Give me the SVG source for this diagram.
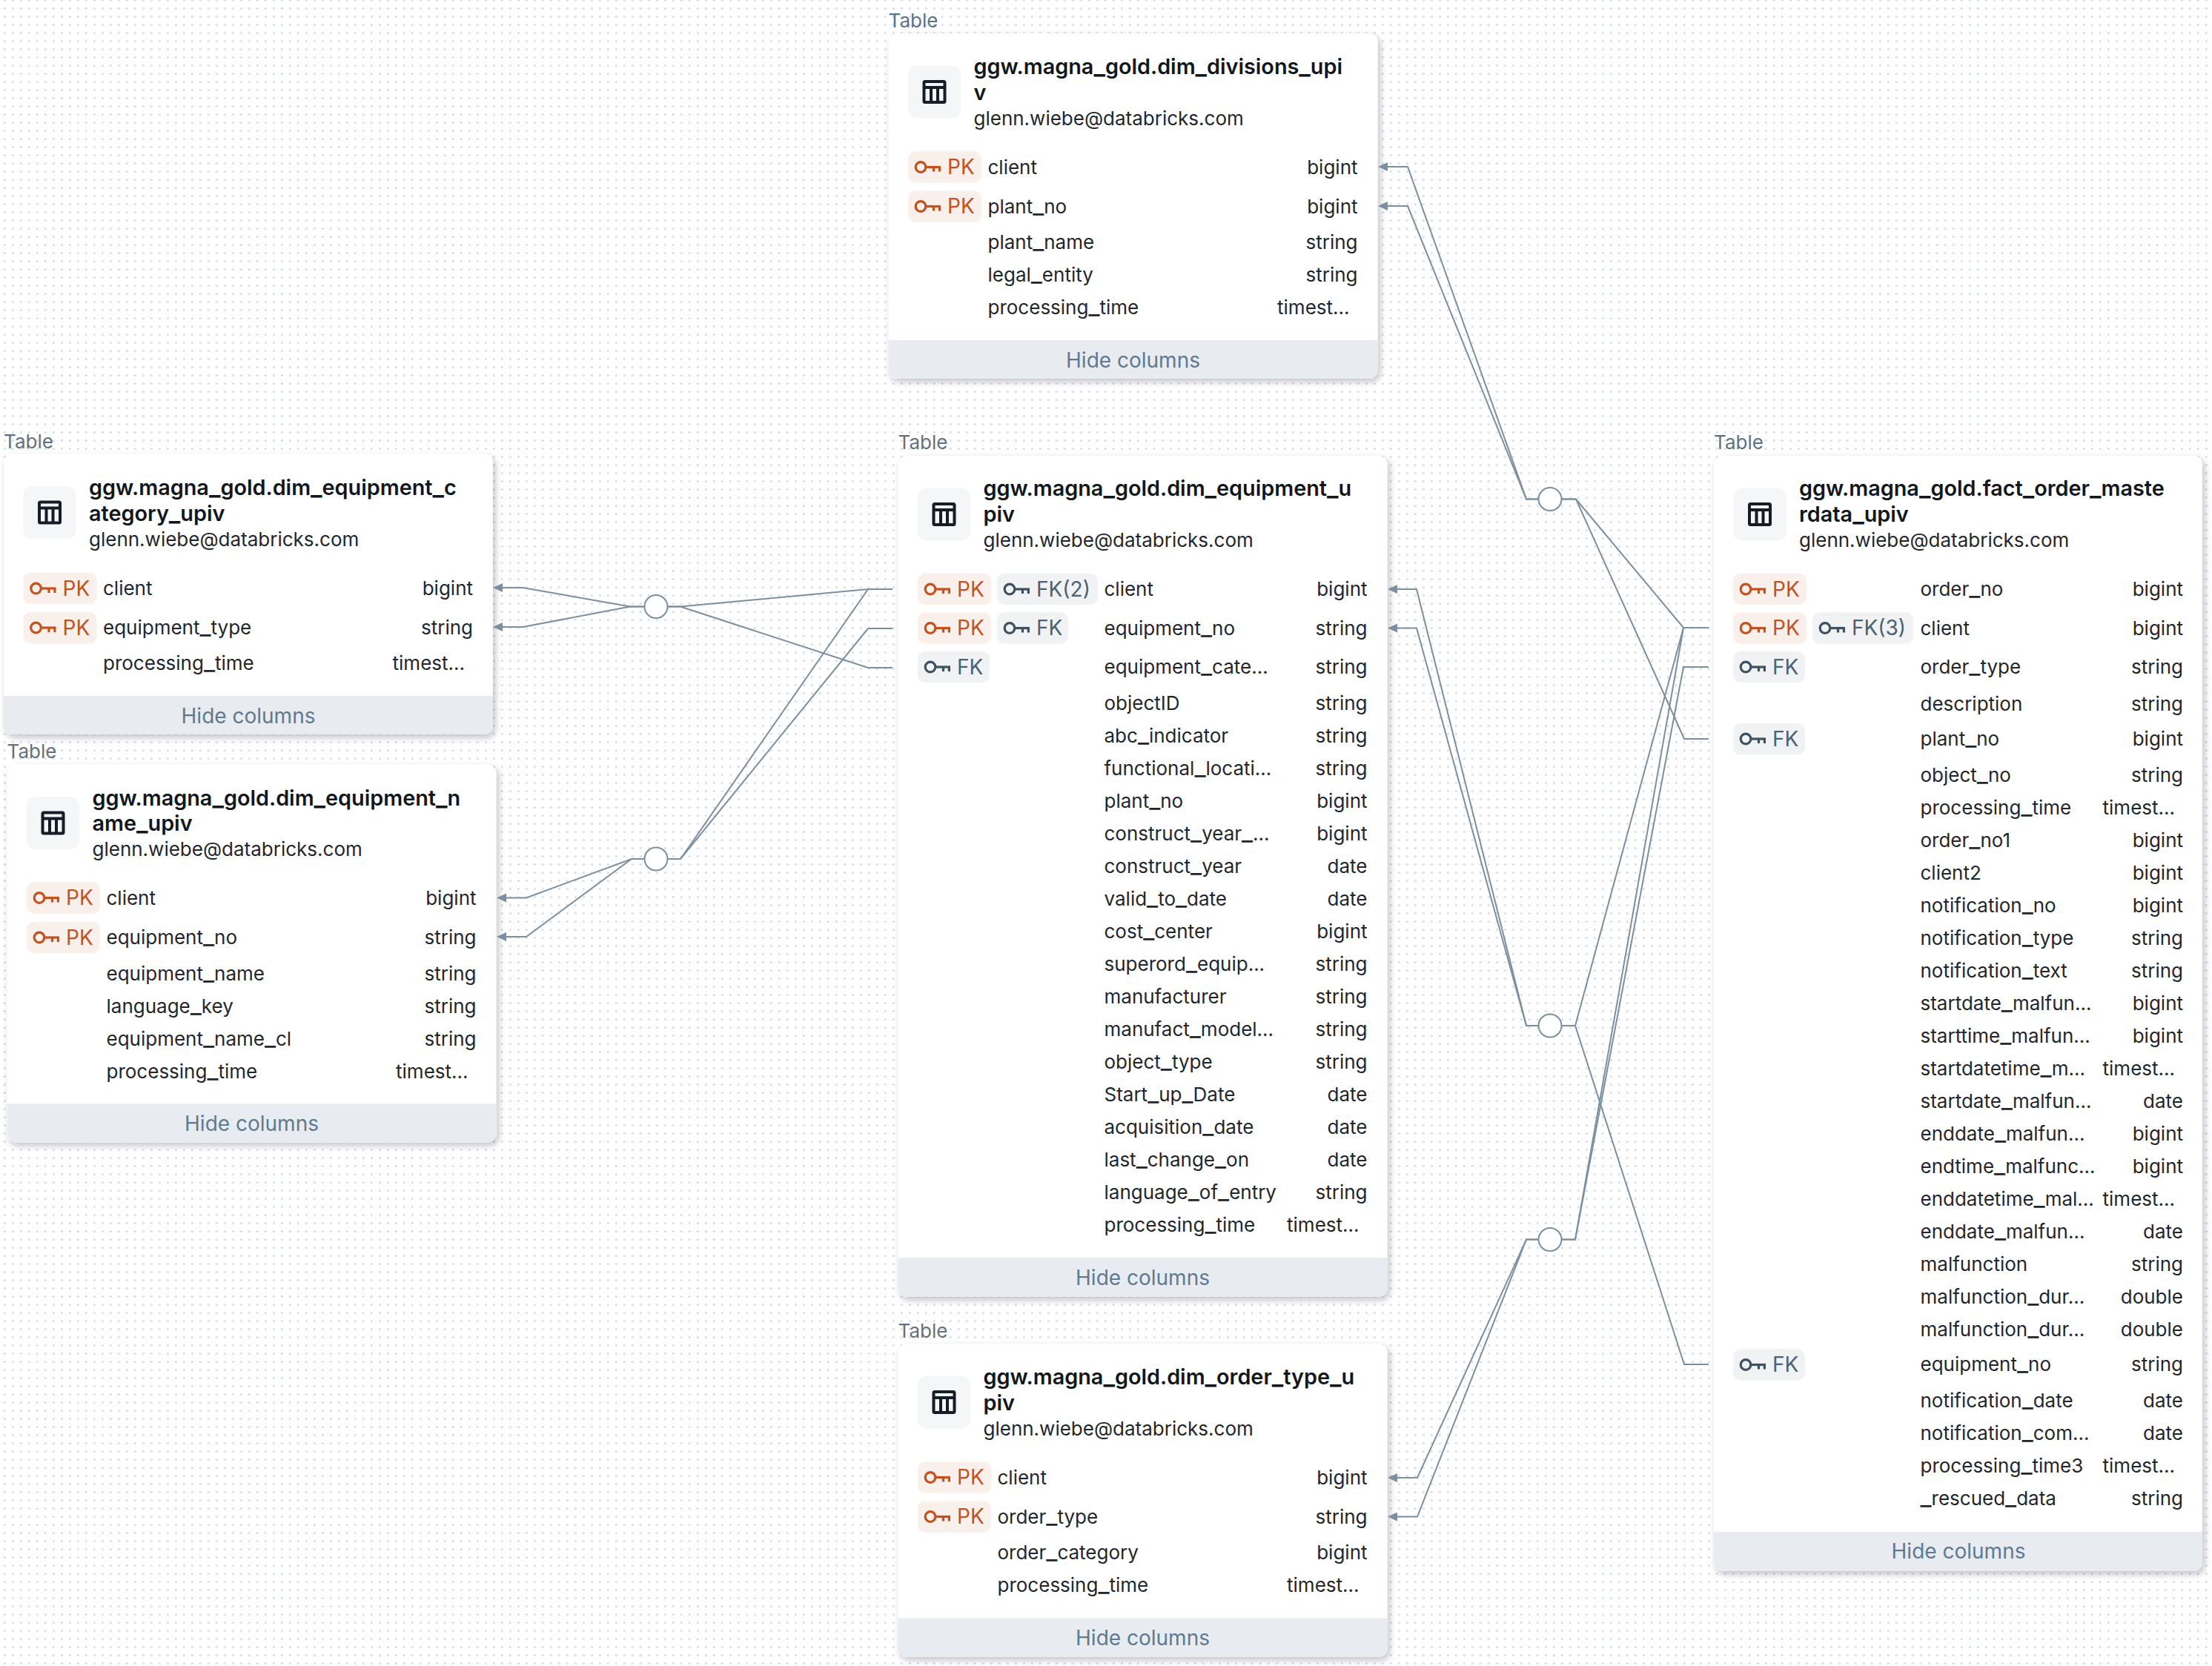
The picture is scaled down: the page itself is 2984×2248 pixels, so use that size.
<svg xmlns="http://www.w3.org/2000/svg" width="2984" height="2248" viewBox="0 0 2984 2248">
<style>
text{font-family:"Inter","Liberation Sans",sans-serif;font-size:26px;fill:#1f272d}
.lab{fill:#5f7281}
.ttl{font-size:28.8px;font-weight:600;fill:#11171c}
.u{font-size:33px}
.tu{font-size:33px}
.typ{text-anchor:end}
.hide{font-size:28px;fill:#5f7a8f;text-anchor:middle}
.card{fill:#fff;filter:url(#sh)}
.foot{fill:#e8ebef}
.ib{fill:#f5f6f8}
.pkb{fill:#faf0eb}
.fkb{fill:#f0f2f4}
.pkt{fill:#c4521f;font-size:28px}
.fkt{fill:#4c6172;font-size:28px}
.kp{color:#c4521f}
.kf{color:#3f5161}
.cn{fill:none;stroke:#7c8fa0;stroke-width:2;marker-end:url(#ar)}
.cc{fill:#fff;stroke:#7c8fa0;stroke-width:2}
</style>
<defs>
<pattern id="dots" width="11" height="11" patternUnits="userSpaceOnUse" x="0.8" y="-5"><circle cx="5.5" cy="5.5" r="1.5" fill="#d4dbe5"/></pattern>
<filter id="sh" x="-5%" y="-5%" width="110%" height="110%"><feDropShadow dx="3" dy="4" stdDeviation="4" flood-color="#1f272d" flood-opacity="0.28"/></filter>
<marker id="ar" viewBox="0 0 13 12" refX="0" refY="6" markerWidth="13" markerHeight="12" markerUnits="userSpaceOnUse" orient="auto"><path d="M13 6L0 0V12Z" fill="#7c8fa0"/></marker>
<g id="key" fill="none" stroke="currentColor" stroke-width="3.2"><circle cx="8" cy="0" r="6.8"/><path d="M15 0H35"/><path d="M25.5 0V6M33.4 0V6"/></g>
<g id="tbl" fill="none" stroke="#161d26" stroke-width="4"><rect x="-14" y="-14" width="28" height="28" rx="1.5"/><path d="M-14 -6H14M-4.5 -6V14M4.5 -6V14"/></g>
</defs>
<rect width="2984" height="2248" fill="#fff"/>
<rect width="2984" height="2248" fill="url(#dots)"/>

<g id="dim_divisions" transform="translate(1198.5,45)">
<text class="lab" x="0" y="-8">Table</text>
<rect class="card" width="660" height="466" rx="12"/>
<path class="foot" d="M0 414H660V454a12 12 0 0 1-12 12H12a12 12 0 0 1-12-12Z"/>
<rect class="ib" x="26.5" y="43.5" width="71" height="71" rx="12"/><use href="#tbl" x="62" y="79"/>
<text class="ttl" x="115" y="55">ggw.magna<tspan class="tu">_</tspan>gold.dim<tspan class="tu">_</tspan>divisions<tspan class="tu">_</tspan>upi</text>
<text class="ttl" x="115" y="89.5">v</text>
<text x="115" y="123.5">glenn.wiebe@databricks.com</text>
<rect class="pkb" x="26.5" y="159.25" width="99" height="42.5" rx="10"/><use class="kp" href="#key" x="35.5" y="180.5"/><text class="pkt" x="79.5" y="190">PK</text>
<rect class="pkb" x="26.5" y="212.25" width="99" height="42.5" rx="10"/><use class="kp" href="#key" x="35.5" y="233.5"/><text class="pkt" x="79.5" y="243">PK</text>
<text x="134" y="189.5">client</text><text class="typ" x="633" y="189.5">bigint</text>
<text x="134" y="242.5">plant<tspan class="u">_</tspan>no</text><text class="typ" x="633" y="242.5">bigint</text>
<text x="134" y="291">plant<tspan class="u">_</tspan>name</text><text class="typ" x="633" y="291">string</text>
<text x="134" y="335">legal<tspan class="u">_</tspan>entity</text><text class="typ" x="633" y="335">string</text>
<text x="134" y="379">processing<tspan class="u">_</tspan>time</text><text class="typ" x="622" y="379">timest...</text>
<text class="hide" x="330" y="451">Hide columns</text>
</g>

<g id="dim_equipment_category" transform="translate(5,612.5)">
<text class="lab" x="0" y="-8">Table</text>
<rect class="card" width="660" height="378.5" rx="12"/>
<path class="foot" d="M0 326.5H660V366.5a12 12 0 0 1-12 12H12a12 12 0 0 1-12-12Z"/>
<rect class="ib" x="26.5" y="43.5" width="71" height="71" rx="12"/><use href="#tbl" x="62" y="79"/>
<text class="ttl" x="115" y="55">ggw.magna<tspan class="tu">_</tspan>gold.dim<tspan class="tu">_</tspan>equipment<tspan class="tu">_</tspan>c</text>
<text class="ttl" x="115" y="90">ategory<tspan class="tu">_</tspan>upiv</text>
<text x="115" y="124">glenn.wiebe@databricks.com</text>
<rect class="pkb" x="26.5" y="160.25" width="99" height="42.5" rx="10"/><use class="kp" href="#key" x="35.5" y="181.5"/><text class="pkt" x="79.5" y="191">PK</text>
<rect class="pkb" x="26.5" y="213.25" width="99" height="42.5" rx="10"/><use class="kp" href="#key" x="35.5" y="234.5"/><text class="pkt" x="79.5" y="244">PK</text>
<text x="134" y="190.5">client</text><text class="typ" x="633" y="190.5">bigint</text>
<text x="134" y="243.5">equipment<tspan class="u">_</tspan>type</text><text class="typ" x="633" y="243.5">string</text>
<text x="134" y="291">processing<tspan class="u">_</tspan>time</text><text class="typ" x="622" y="291">timest...</text>
<text class="hide" x="330" y="363.5">Hide columns</text>
</g>

<g id="dim_equipment_name" transform="translate(9.5,1031.5)">
<text class="lab" x="0" y="-9">Table</text>
<rect class="card" width="660" height="510" rx="12"/>
<path class="foot" d="M0 458H660V498a12 12 0 0 1-12 12H12a12 12 0 0 1-12-12Z"/>
<rect class="ib" x="26.5" y="43.5" width="71" height="71" rx="12"/><use href="#tbl" x="62" y="79"/>
<text class="ttl" x="115" y="55">ggw.magna<tspan class="tu">_</tspan>gold.dim<tspan class="tu">_</tspan>equipment<tspan class="tu">_</tspan>n</text>
<text class="ttl" x="115" y="89.5">ame<tspan class="tu">_</tspan>upiv</text>
<text x="115" y="123.5">glenn.wiebe@databricks.com</text>
<rect class="pkb" x="26.5" y="158.75" width="99" height="42.5" rx="10"/><use class="kp" href="#key" x="35.5" y="180"/><text class="pkt" x="79.5" y="189.5">PK</text>
<rect class="pkb" x="26.5" y="212.25" width="99" height="42.5" rx="10"/><use class="kp" href="#key" x="35.5" y="233.5"/><text class="pkt" x="79.5" y="243">PK</text>
<text x="134" y="189">client</text><text class="typ" x="633" y="189">bigint</text>
<text x="134" y="242.5">equipment<tspan class="u">_</tspan>no</text><text class="typ" x="633" y="242.5">string</text>
<text x="134" y="291">equipment<tspan class="u">_</tspan>name</text><text class="typ" x="633" y="291">string</text>
<text x="134" y="335">language<tspan class="u">_</tspan>key</text><text class="typ" x="633" y="335">string</text>
<text x="134" y="379">equipment<tspan class="u">_</tspan>name<tspan class="u">_</tspan>cl</text><text class="typ" x="633" y="379">string</text>
<text x="134" y="423">processing<tspan class="u">_</tspan>time</text><text class="typ" x="622" y="423">timest...</text>
<text class="hide" x="330" y="494">Hide columns</text>
</g>

<g id="dim_equipment" transform="translate(1211.5,615)">
<text class="lab" x="0" y="-9">Table</text>
<rect class="card" width="660" height="1135" rx="12"/>
<path class="foot" d="M0 1082H660V1123a12 12 0 0 1-12 12H12a12 12 0 0 1-12-12Z"/>
<rect class="ib" x="26.5" y="43.5" width="71" height="71" rx="12"/><use href="#tbl" x="62" y="79"/>
<text class="ttl" x="115" y="54">ggw.magna<tspan class="tu">_</tspan>gold.dim<tspan class="tu">_</tspan>equipment<tspan class="tu">_</tspan>u</text>
<text class="ttl" x="115" y="88.5">piv</text>
<text x="115" y="122.5">glenn.wiebe@databricks.com</text>
<rect class="pkb" x="26.5" y="158.75" width="99" height="42.5" rx="10"/><use class="kp" href="#key" x="35.5" y="180"/><text class="pkt" x="79.5" y="189.5">PK</text>
<rect class="fkb" x="133.5" y="158.75" width="136" height="42.5" rx="10"/><use class="kf" href="#key" x="142.5" y="180"/><text class="fkt" x="186.5" y="189.5">FK(2)</text>
<rect class="pkb" x="26.5" y="211.25" width="99" height="42.5" rx="10"/><use class="kp" href="#key" x="35.5" y="232.5"/><text class="pkt" x="79.5" y="242">PK</text>
<rect class="fkb" x="133.5" y="211.25" width="96" height="42.5" rx="10"/><use class="kf" href="#key" x="142.5" y="232.5"/><text class="fkt" x="186.5" y="242">FK</text>
<rect class="fkb" x="26.5" y="263.75" width="97" height="42.5" rx="10"/><use class="kf" href="#key" x="35.5" y="285"/><text class="fkt" x="79.5" y="294.5">FK</text>
<text x="278" y="189">client</text><text class="typ" x="633" y="189">bigint</text>
<text x="278" y="241.5">equipment<tspan class="u">_</tspan>no</text><text class="typ" x="633" y="241.5">string</text>
<text x="278" y="294">equipment<tspan class="u">_</tspan>cate...</text><text class="typ" x="633" y="294">string</text>
<text x="278" y="343">objectID</text><text class="typ" x="633" y="343">string</text>
<text x="278" y="387">abc<tspan class="u">_</tspan>indicator</text><text class="typ" x="633" y="387">string</text>
<text x="278" y="431">functional<tspan class="u">_</tspan>locati...</text><text class="typ" x="633" y="431">string</text>
<text x="278" y="475">plant<tspan class="u">_</tspan>no</text><text class="typ" x="633" y="475">bigint</text>
<text x="278" y="519">construct<tspan class="u">_</tspan>year<tspan class="u">_</tspan>...</text><text class="typ" x="633" y="519">bigint</text>
<text x="278" y="563">construct<tspan class="u">_</tspan>year</text><text class="typ" x="633" y="563">date</text>
<text x="278" y="607">valid<tspan class="u">_</tspan>to<tspan class="u">_</tspan>date</text><text class="typ" x="633" y="607">date</text>
<text x="278" y="651">cost<tspan class="u">_</tspan>center</text><text class="typ" x="633" y="651">bigint</text>
<text x="278" y="695">superord<tspan class="u">_</tspan>equip...</text><text class="typ" x="633" y="695">string</text>
<text x="278" y="739">manufacturer</text><text class="typ" x="633" y="739">string</text>
<text x="278" y="783">manufact<tspan class="u">_</tspan>model...</text><text class="typ" x="633" y="783">string</text>
<text x="278" y="827">object<tspan class="u">_</tspan>type</text><text class="typ" x="633" y="827">string</text>
<text x="278" y="871">Start<tspan class="u">_</tspan>up<tspan class="u">_</tspan>Date</text><text class="typ" x="633" y="871">date</text>
<text x="278" y="915">acquisition<tspan class="u">_</tspan>date</text><text class="typ" x="633" y="915">date</text>
<text x="278" y="959">last<tspan class="u">_</tspan>change<tspan class="u">_</tspan>on</text><text class="typ" x="633" y="959">date</text>
<text x="278" y="1003">language<tspan class="u">_</tspan>of<tspan class="u">_</tspan>entry</text><text class="typ" x="633" y="1003">string</text>
<text x="278" y="1047">processing<tspan class="u">_</tspan>time</text><text class="typ" x="622" y="1047">timest...</text>
<text class="hide" x="330" y="1119">Hide columns</text>
</g>

<g id="dim_order_type" transform="translate(1211.5,1813)">
<text class="lab" x="0" y="-8">Table</text>
<rect class="card" width="660" height="423" rx="12"/>
<path class="foot" d="M0 370.5H660V411a12 12 0 0 1-12 12H12a12 12 0 0 1-12-12Z"/>
<rect class="ib" x="26.5" y="43.5" width="71" height="71" rx="12"/><use href="#tbl" x="62" y="79"/>
<text class="ttl" x="115" y="55">ggw.magna<tspan class="tu">_</tspan>gold.dim<tspan class="tu">_</tspan>order<tspan class="tu">_</tspan>type<tspan class="tu">_</tspan>u</text>
<text class="ttl" x="115" y="89.5">piv</text>
<text x="115" y="123.5">glenn.wiebe@databricks.com</text>
<rect class="pkb" x="26.5" y="159.25" width="99" height="42.5" rx="10"/><use class="kp" href="#key" x="35.5" y="180.5"/><text class="pkt" x="79.5" y="190">PK</text>
<rect class="pkb" x="26.5" y="212.25" width="99" height="42.5" rx="10"/><use class="kp" href="#key" x="35.5" y="233.5"/><text class="pkt" x="79.5" y="243">PK</text>
<text x="134" y="189.5">client</text><text class="typ" x="633" y="189.5">bigint</text>
<text x="134" y="242.5">order<tspan class="u">_</tspan>type</text><text class="typ" x="633" y="242.5">string</text>
<text x="134" y="290.5">order<tspan class="u">_</tspan>category</text><text class="typ" x="633" y="290.5">bigint</text>
<text x="134" y="335">processing<tspan class="u">_</tspan>time</text><text class="typ" x="622" y="335">timest...</text>
<text class="hide" x="330" y="406.5">Hide columns</text>
</g>

<g id="fact_order_masterdata" transform="translate(2312,615)">
<text class="lab" x="0" y="-9">Table</text>
<rect class="card" width="659" height="1505" rx="12"/>
<path class="foot" d="M0 1452H659V1493a12 12 0 0 1-12 12H12a12 12 0 0 1-12-12Z"/>
<rect class="ib" x="26.5" y="43.5" width="71" height="71" rx="12"/><use href="#tbl" x="62" y="79"/>
<text class="ttl" x="115" y="54">ggw.magna<tspan class="tu">_</tspan>gold.fact<tspan class="tu">_</tspan>order<tspan class="tu">_</tspan>maste</text>
<text class="ttl" x="115" y="88.5">rdata<tspan class="tu">_</tspan>upiv</text>
<text x="115" y="122.5">glenn.wiebe@databricks.com</text>
<rect class="pkb" x="26" y="158.75" width="99" height="42.5" rx="10"/><use class="kp" href="#key" x="35" y="180"/><text class="pkt" x="79" y="189.5">PK</text>
<rect class="pkb" x="26" y="211.25" width="99" height="42.5" rx="10"/><use class="kp" href="#key" x="35" y="232.5"/><text class="pkt" x="79" y="242">PK</text>
<rect class="fkb" x="133" y="211.25" width="136" height="42.5" rx="10"/><use class="kf" href="#key" x="142" y="232.5"/><text class="fkt" x="186" y="242">FK(3)</text>
<rect class="fkb" x="26" y="263.75" width="97" height="42.5" rx="10"/><use class="kf" href="#key" x="35" y="285"/><text class="fkt" x="79" y="294.5">FK</text>
<rect class="fkb" x="26" y="360.75" width="97" height="42.5" rx="10"/><use class="kf" href="#key" x="35" y="382"/><text class="fkt" x="79" y="391.5">FK</text>
<rect class="fkb" x="26" y="1205.25" width="97" height="42.5" rx="10"/><use class="kf" href="#key" x="35" y="1226.5"/><text class="fkt" x="79" y="1236">FK</text>
<text x="278.5" y="189">order<tspan class="u">_</tspan>no</text><text class="typ" x="633" y="189">bigint</text>
<text x="278.5" y="241.5">client</text><text class="typ" x="633" y="241.5">bigint</text>
<text x="278.5" y="294">order<tspan class="u">_</tspan>type</text><text class="typ" x="633" y="294">string</text>
<text x="278.5" y="344">description</text><text class="typ" x="633" y="344">string</text>
<text x="278.5" y="391">plant<tspan class="u">_</tspan>no</text><text class="typ" x="633" y="391">bigint</text>
<text x="278.5" y="440">object<tspan class="u">_</tspan>no</text><text class="typ" x="633" y="440">string</text>
<text x="278.5" y="484">processing<tspan class="u">_</tspan>time</text><text class="typ" x="622" y="484">timest...</text>
<text x="278.5" y="528">order<tspan class="u">_</tspan>no1</text><text class="typ" x="633" y="528">bigint</text>
<text x="278.5" y="572">client2</text><text class="typ" x="633" y="572">bigint</text>
<text x="278.5" y="616">notification<tspan class="u">_</tspan>no</text><text class="typ" x="633" y="616">bigint</text>
<text x="278.5" y="660">notification<tspan class="u">_</tspan>type</text><text class="typ" x="633" y="660">string</text>
<text x="278.5" y="704">notification<tspan class="u">_</tspan>text</text><text class="typ" x="633" y="704">string</text>
<text x="278.5" y="748">startdate<tspan class="u">_</tspan>malfun...</text><text class="typ" x="633" y="748">bigint</text>
<text x="278.5" y="792">starttime<tspan class="u">_</tspan>malfun...</text><text class="typ" x="633" y="792">bigint</text>
<text x="278.5" y="836">startdatetime<tspan class="u">_</tspan>m...</text><text class="typ" x="622" y="836">timest...</text>
<text x="278.5" y="880">startdate<tspan class="u">_</tspan>malfun...</text><text class="typ" x="633" y="880">date</text>
<text x="278.5" y="924">enddate<tspan class="u">_</tspan>malfun...</text><text class="typ" x="633" y="924">bigint</text>
<text x="278.5" y="968">endtime<tspan class="u">_</tspan>malfunc...</text><text class="typ" x="633" y="968">bigint</text>
<text x="278.5" y="1012">enddatetime<tspan class="u">_</tspan>mal...</text><text class="typ" x="622" y="1012">timest...</text>
<text x="278.5" y="1056">enddate<tspan class="u">_</tspan>malfun...</text><text class="typ" x="633" y="1056">date</text>
<text x="278.5" y="1100">malfunction</text><text class="typ" x="633" y="1100">string</text>
<text x="278.5" y="1144">malfunction<tspan class="u">_</tspan>dur...</text><text class="typ" x="633" y="1144">double</text>
<text x="278.5" y="1188">malfunction<tspan class="u">_</tspan>dur...</text><text class="typ" x="633" y="1188">double</text>
<text x="278.5" y="1235">equipment<tspan class="u">_</tspan>no</text><text class="typ" x="633" y="1235">string</text>
<text x="278.5" y="1284">notification<tspan class="u">_</tspan>date</text><text class="typ" x="633" y="1284">date</text>
<text x="278.5" y="1328">notification<tspan class="u">_</tspan>com...</text><text class="typ" x="633" y="1328">date</text>
<text x="278.5" y="1372">processing<tspan class="u">_</tspan>time3</text><text class="typ" x="622" y="1372">timest...</text>
<text x="278.5" y="1416"><tspan class="u">_</tspan>rescued<tspan class="u">_</tspan>data</text><text class="typ" x="633" y="1416">string</text>
<text class="hide" x="330" y="1488">Hide columns</text>
</g>

<g id="connectors">
<path class="cn" d="M2305 847H2271L2126 673.5H2059L1899 225H1872"/>
<path class="cn" d="M2305 997H2272L2126 673.5H2059L1899 278H1872"/>
<path class="cn" d="M2305 847H2271L2125 1384H2059L1911 795H1885"/>
<path class="cn" d="M2305 1841H2272L2125 1384H2059L1911 847.5H1885"/>
<path class="cn" d="M2305 847H2271L2125 1672.5H2059L1912 1994H1885"/>
<path class="cn" d="M2305 900H2271L2125 1672.5H2059L1912 2046.5H1885"/>
<path class="cn" d="M1204 795H1171L918 818.5H850L705.5 793H678"/>
<path class="cn" d="M1204 901H1171L918 818.5H850L705.5 846H678"/>
<path class="cn" d="M1204 795H1171L918 1159H852L710 1211.5H683"/>
<path class="cn" d="M1204 848H1171L918 1159H852L710 1264H683"/>
<circle class="cc" cx="2091" cy="673.5" r="15.5"/>
<circle class="cc" cx="2091" cy="1384" r="15.5"/>
<circle class="cc" cx="2091" cy="1672.5" r="15.5"/>
<circle class="cc" cx="885" cy="818.5" r="15.5"/>
<circle class="cc" cx="885" cy="1159" r="15.5"/>
</g>
</svg>
